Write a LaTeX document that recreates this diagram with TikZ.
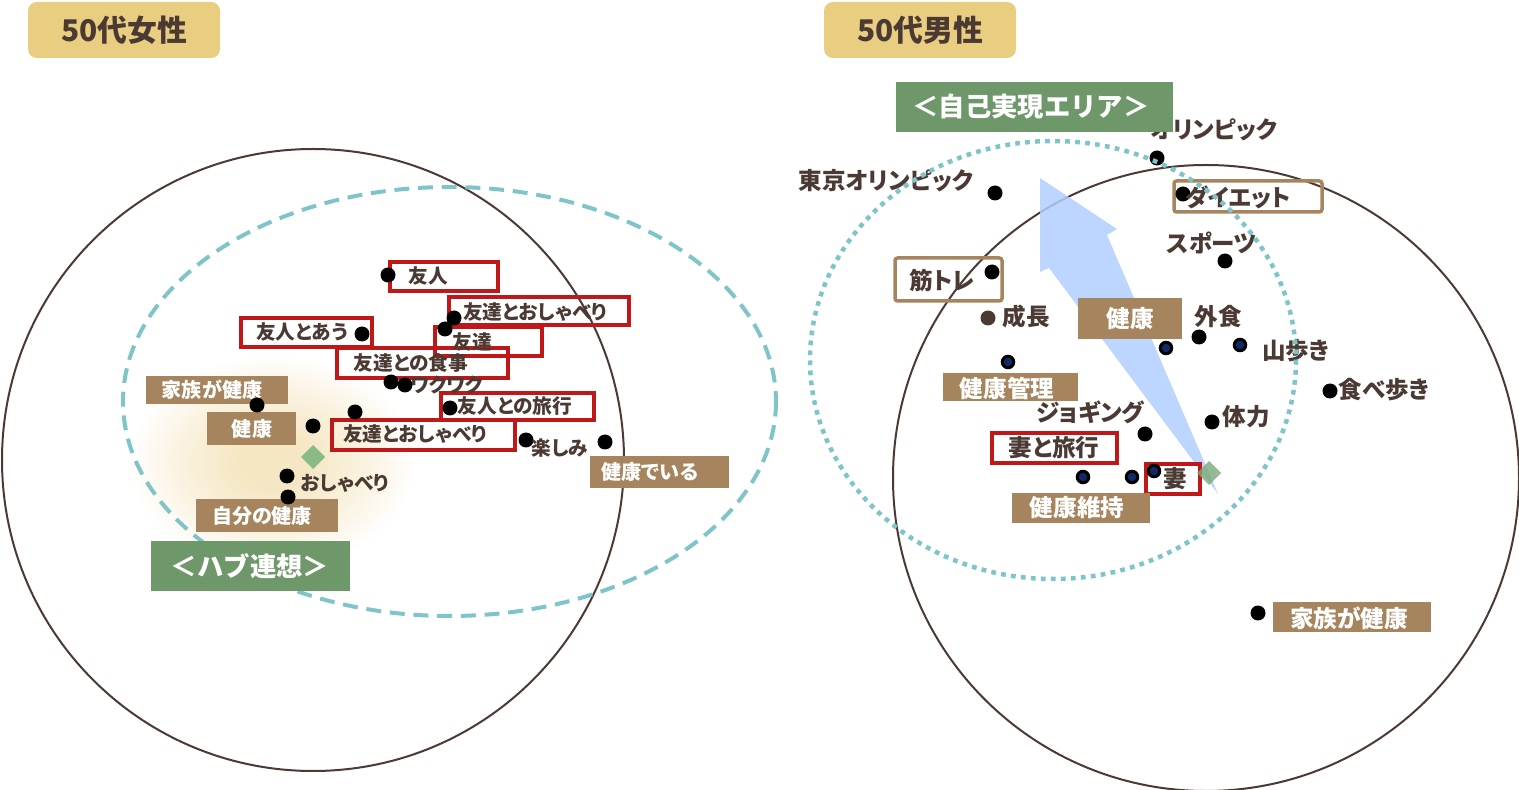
\documentclass[tikz,border=0pt]{standalone}
\usepackage{fontspec}
\setmainfont{Noto Sans CJK JP}[RawFeature=+palt]
\newfontfamily\widejp{Noto Sans CJK JP}
\definecolor{inkbrown}{RGB}{75,58,51}
\definecolor{tagbrown}{RGB}{166,133,94}
\definecolor{areagreen}{RGB}{110,152,106}
\definecolor{titlegold}{RGB}{233,205,128}
\definecolor{framered}{RGB}{192,24,24}
\definecolor{ringteal}{RGB}{127,196,200}
\definecolor{liftblue}{RGB}{176,207,255}
\definecolor{pinnavy}{RGB}{15,42,102}
\definecolor{hubmint}{RGB}{136,187,136}
\definecolor{glowcream}{RGB}{246,231,196}
\pgfdeclareradialshading{hubglow}{\pgfpoint{0bp}{0bp}}{color(0bp)=(glowcream); color(6bp)=(glowcream); color(15bp)=(glowcream!55!white); color(24bp)=(white); color(50bp)=(white)}
\begin{document}
\begin{tikzpicture}[x=0.02cm, y=-0.02cm,
  blackdot/.style={circle, fill=black, inner sep=0pt, minimum size=0.3cm},
  browndot/.style={circle, fill=inkbrown, inner sep=0pt, minimum size=0.3cm},
  navydot/.style={circle, fill=pinnavy, draw=black, line width=0.06cm, inner sep=0pt, minimum size=0.23cm},
  ringline/.style={draw=inkbrown, line width=0.04cm},
  redframe/.style={draw=framered, line width=0.075cm},
  brownframe/.style={draw=tagbrown, line width=0.07cm, rounded corners=1.5pt},
  smalltag/.style={inner sep=0pt, text=inkbrown, font=\fontsize{11.2}{13}\selectfont\bfseries},
  bigtag/.style={inner sep=0pt, text=inkbrown, font=\fontsize{13.4}{15}\selectfont\bfseries},
  smallwhite/.style={inner sep=0pt, text=white, font=\fontsize{11.4}{13}\selectfont\bfseries},
  bigwhite/.style={inner sep=0pt, text=white, font=\fontsize{13.4}{15}\selectfont\bfseries},
  areatitle/.style={inner sep=0pt, text=white, font=\widejp\fontsize{15}{17}\selectfont\bfseries},
  paneltitle/.style={inner sep=0pt, text=inkbrown, font=\fontsize{17}{19}\selectfont\bfseries}]
  \useasboundingbox (0,0) rectangle (1519,790);

  % 50s women panel
  \begin{scope}
    \fill[titlegold, rounded corners=5pt] (28,2) rectangle (220,58);
    \node[paneltitle] (wtitle) at (124,30) {50代女性};
    % glow round the hub
    \shade[shading=hubglow] (272,462) ellipse (150 and 112);
    \draw[ringline] (313,460) circle (311);
    \draw[ringteal, line width=0.08cm, dash pattern=on 8.5pt off 5pt] (449.5,401.5) ellipse (326.5 and 214.5);
    % red frames
    \draw[redframe] (390,262) rectangle (498,291);
    \draw[redframe] (449,297) rectangle (629,325);
    \draw[redframe] (241,318) rectangle (372,347);
    \draw[redframe] (435,327) rectangle (542,356);
    \draw[redframe] (337,348) rectangle (508,378);
    \draw[redframe] (441,393) rectangle (594,420);
    \draw[redframe] (332,420) rectangle (515,450);
    % brown tags
    \fill[tagbrown] (146,376) rectangle (288,404);
    \fill[tagbrown] (207,412) rectangle (296,445);
    \fill[tagbrown] (590,456) rectangle (729,488);
    \fill[tagbrown] (196,499) rectangle (338,532);
    \node[smallwhite] (wfamily) at (212,390) {家族が健康};
    \node[smallwhite] (whealth) at (252,429) {健康};
    \node[smallwhite] (wstay) at (650,472) {健康でいる};
    \node[smallwhite] (wown) at (262,516) {自分の健康};
    % hub diamond
    \fill[hubmint] (313,445) -- (325,457) -- (313,469) -- (301,457) -- cycle;
    % dots
    \node[blackdot] (wd1) at (388,275) {};
    \node[blackdot] (wd2) at (454,318) {};
    \node[blackdot] (wd3) at (445,329) {};
    \node[blackdot] (wd4) at (362,334) {};
    \node[blackdot] (wd5) at (391,382) {};
    \node[blackdot] (wd6) at (405,385) {};
    \node[blackdot] (wd7) at (257,405) {};
    \node[blackdot] (wd8) at (313,426) {};
    \node[blackdot] (wd9) at (355,412) {};
    \node[blackdot] (wd10) at (450,408) {};
    \node[blackdot] (wd11) at (526,440) {};
    \node[blackdot] (wd12) at (605,442) {};
    \node[blackdot] (wd13) at (287,476) {};
    \node[blackdot] (wd14) at (288,497) {};
    % words
    \node[smalltag] (wfriend) at (428,276) {友人};
    \node[smalltag] (wchat1) at (535,312) {友達とおしゃべり};
    \node[smalltag] (wmeet) at (302,332) {友人とあう};
    \node[smalltag] (wmates) at (472,342) {友達};
    \node[smalltag] (wmeal) at (411,363) {友達との食事};
    \node[smalltag] (wthrill) at (447,385) {ワクワク};
    \node[smalltag] (wtrip) at (515,406) {友人との旅行};
    \node[smalltag] (wchat2) at (415,434) {友達とおしゃべり};
    \node[smalltag] (wfun) at (560,448) {楽しみ};
    \node[smalltag] (wtalk) at (345,483) {おしゃべり};
    % hub label
    \fill[areagreen] (151,541) rectangle (350,591);
    \node[areatitle] (whub) at (250,566) {＜ハブ連想＞};
  \end{scope}

  % 50s men panel
  \begin{scope}
    \fill[titlegold, rounded corners=5pt] (824,2) rectangle (1016,58);
    \node[paneltitle] (mtitle) at (920,30) {50代男性};
    \draw[ringline] (1206,478) circle (313);
    % rising arrow
    \fill[liftblue, opacity=0.85] (1040,178) -- (1117,229) -- (1107,235) -- (1218,494) -- (1049,268) -- (1040,272) -- cycle;
    % frames
    \draw[redframe] (992,433) rectangle (1117,463);
    \draw[redframe] (1146,464) rectangle (1200,494);
    \draw[brownframe] (1174,181) rectangle (1322,212);
    \draw[brownframe] (895,258) rectangle (1002,301);
    % brown tags
    \fill[tagbrown] (1078,298) rectangle (1182,339);
    \fill[tagbrown] (943,373) rectangle (1078,401);
    \fill[tagbrown] (1012,493) rectangle (1150,523);
    \fill[tagbrown] (1273,602) rectangle (1431,632);
    \node[bigwhite] (mhealth) at (1130,319) {健康};
    \node[bigwhite] (mcare) at (1007,388) {健康管理};
    \node[bigwhite] (mkeep) at (1077,508) {健康維持};
    \node[bigwhite] (mfamily) at (1349,618) {家族が健康};
    % hub diamond
    \fill[hubmint!90!black, opacity=0.8] (1209,461) -- (1221,473) -- (1209,485) -- (1197,473) -- cycle;
    % dots
    \node[blackdot] (md1) at (995,193) {};
    \node[blackdot] (md2) at (1157,158) {};
    \node[blackdot] (md3) at (1183,194) {};
    \node[blackdot] (md4) at (1225,261) {};
    \node[blackdot] (md5) at (992,272) {};
    \node[browndot] (md6) at (988,318) {};
    \node[blackdot] (md7) at (1199,337) {};
    \node[navydot] (md8) at (1166,348) {};
    \node[navydot] (md9) at (1240,345) {};
    \node[navydot] (md10) at (1008,362) {};
    \node[blackdot] (md11) at (1330,391) {};
    \node[blackdot] (md12) at (1145,434) {};
    \node[blackdot] (md13) at (1212,422) {};
    \node[navydot] (md14) at (1083,477) {};
    \node[navydot] (md15) at (1132,477) {};
    \node[navydot] (md16) at (1154,471) {};
    \node[blackdot] (md17) at (1258,613) {};
    % words
    \node[bigtag] (mtokyo) at (886,181) {東京オリンピック};
    \node[bigtag] (molympic) at (1214,130) {オリンピック};
    \node[bigtag] (mdiet) at (1238,197) {ダイエット};
    \node[bigtag] (msports) at (1212,243) {スポーツ};
    \node[bigtag] (mmuscle) at (942,280) {筋トレ};
    \node[bigtag] (mgrowth) at (1026,317) {成長};
    \node[bigtag] (meatout) at (1218,317) {外食};
    \node[bigtag] (mhike) at (1296,351) {山歩き};
    \node[bigtag] (mfood) at (1384,390) {食べ歩き};
    \node[bigtag] (mjog) at (1090,412) {ジョギング};
    \node[bigtag] (mstrength) at (1246,417) {体力};
    \node[bigtag] (mwifetrip) at (1054,448) {妻と旅行};
    \node[bigtag] (mwife) at (1175,479) {妻};
    % area label
    \fill[areagreen] (896,82) rectangle (1173,132);
    \node[areatitle] (marea) at (1031,107) {＜自己実現エリア＞};
    \draw[ringteal, line width=0.09cm, dash pattern=on 2.7pt off 3pt] (1053,360) ellipse (243 and 219);
  \end{scope}
\end{tikzpicture}
\end{document}
